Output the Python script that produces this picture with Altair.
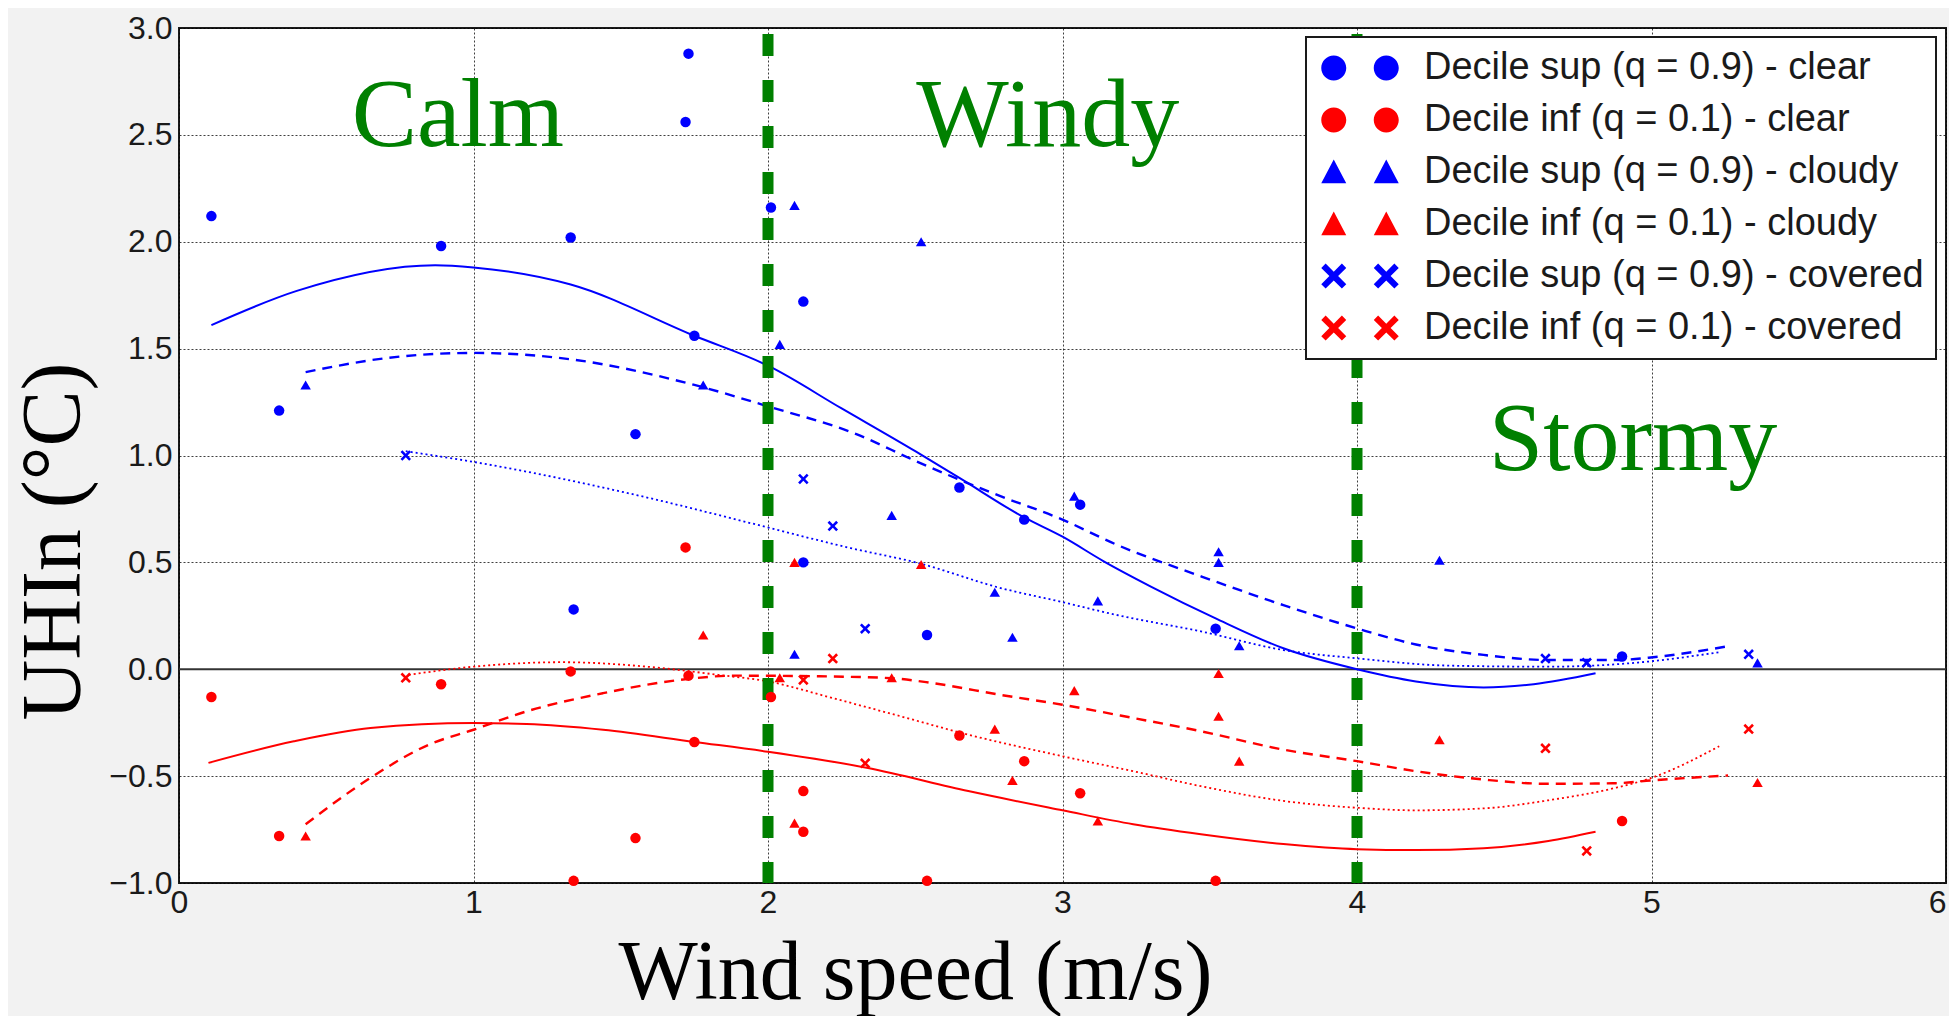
import altair as alt
import pandas as pd

# ------------------------------------------------------------------ data
series_names = [
    "Decile sup (q = 0.9) - clear",
    "Decile inf (q = 0.1) - clear",
    "Decile sup (q = 0.9) - cloudy",
    "Decile inf (q = 0.1) - cloudy",
    "Decile sup (q = 0.9) - covered",
    "Decile inf (q = 0.1) - covered",
]
series_colors = ["#0000ff", "#ff0000", "#0000ff", "#ff0000", "#0000ff", "#ff0000"]

clear_x = [0.11, 0.34, 0.89, 1.33, 1.34, 1.55, 1.72, 1.73, 1.75, 2.01, 2.12, 2.12,
           2.54, 2.65, 2.87, 3.06, 3.52, 4.90]
clear_sup = [2.12, 1.21, 1.98, 2.02, 0.28, 1.10, 2.56, 2.88, 1.56, 2.16, 1.72, 0.50,
             0.16, 0.85, 0.70, 0.77, 0.19, 0.06]
clear_inf = [-0.13, -0.78, -0.07, -0.01, -0.99, -0.79, 0.57, -0.03, -0.34, -0.13, -0.57, -0.76,
             -0.99, -0.31, -0.43, -0.58, -0.99, -0.71]

cloudy_x = [0.43, 1.78, 2.04, 2.09, 2.09, 2.42, 2.52, 2.77, 2.83, 3.04, 3.12, 3.53, 3.53,
            3.60, 4.28, 5.36]
cloudy_sup = [1.33, 1.33, 1.52, 2.17, 0.07, 0.72, 2.00, 0.36, 0.15, 0.81, 0.32, 0.55, 0.50,
              0.11, 0.51, 0.03]
cloudy_inf = [-0.78, 0.16, -0.04, 0.50, -0.72, -0.04, 0.49, -0.28, -0.52, -0.10, -0.71, -0.02,
              -0.22, -0.43, -0.33, -0.53]

covered_x = [0.77, 2.12, 2.22, 2.33, 4.64, 4.78, 5.33]
covered_sup = [1.00, 0.89, 0.67, 0.19, 0.05, 0.03, 0.07]
covered_inf = [-0.04, -0.05, 0.05, -0.44, -0.37, -0.85, -0.28]

# fitted quantile curves
fit_clear_sup_x = [0.11, 0.40, 0.87, 1.00, 1.33, 1.75, 2.00, 2.25, 2.50, 2.65, 2.87, 3.00,
                   3.14, 3.30, 3.52, 3.75, 4.00, 4.20, 4.43, 4.60, 4.81]
fit_clear_sup_y = [1.61, 1.77, 1.89, 1.88, 1.80, 1.56, 1.42, 1.22, 1.02, 0.895, 0.71, 0.62,
                   0.505, 0.387, 0.238, 0.098, 0.0, -0.057, -0.085, -0.07, -0.019]

fit_cloudy_sup_x = [0.43, 0.70, 1.00, 1.33, 1.75, 2.00, 2.30, 2.50, 2.77, 3.00, 3.18, 3.47,
                    3.75, 4.00, 4.20, 4.43, 4.65, 4.88, 4.99, 5.27]
fit_cloudy_sup_y = [1.39, 1.455, 1.48, 1.45, 1.33, 1.23, 1.10, 0.975, 0.82, 0.70, 0.585, 0.435,
                    0.30, 0.191, 0.116, 0.067, 0.043, 0.043, 0.054, 0.11]

fit_covered_sup_x = [0.77, 1.00, 1.60, 1.94, 2.28, 2.51, 2.79, 3.00, 3.18, 3.47, 3.75, 4.00,
                     4.31, 4.65, 4.99, 5.23]
fit_covered_sup_y = [1.02, 0.97, 0.80, 0.684, 0.567, 0.497, 0.38, 0.314, 0.255, 0.177, 0.09, 0.051,
                     0.017, 0.012, 0.036, 0.08]

fit_clear_inf_x = [0.10, 0.39, 0.65, 1.00, 1.18, 1.44, 1.75, 2.00, 2.335, 2.68, 3.00, 3.24,
                   3.47, 3.75, 4.00, 4.20, 4.43, 4.65, 4.81]
fit_clear_inf_y = [-0.438, -0.337, -0.275, -0.252, -0.256, -0.283, -0.34, -0.386, -0.461, -0.57,
                   -0.66, -0.725, -0.772, -0.818, -0.842, -0.846, -0.837, -0.803, -0.76]

fit_cloudy_inf_x = [0.43, 0.65, 0.85, 1.00, 1.18, 1.44, 1.70, 1.89, 2.22, 2.42, 2.56, 2.79,
                    3.00, 3.24, 3.47, 3.75, 4.00, 4.20, 4.43, 4.65, 4.88, 5.00, 5.26]
fit_cloudy_inf_y = [-0.725, -0.508, -0.352, -0.283, -0.197, -0.112, -0.05, -0.03, -0.034, -0.042,
                    -0.065, -0.12, -0.166, -0.228, -0.29, -0.376, -0.43, -0.477, -0.516, -0.536,
                    -0.533, -0.52, -0.497]

fit_covered_inf_x = [0.78, 1.00, 1.30, 1.62, 1.83, 2.00, 2.22, 2.45, 2.68, 3.00, 3.24, 3.47,
                     3.75, 4.00, 4.20, 4.43, 4.65, 4.88, 5.00, 5.23]
fit_covered_inf_y = [-0.026, 0.012, 0.033, 0.008, -0.026, -0.057, -0.135, -0.22, -0.306, -0.407,
                     -0.477, -0.547, -0.616, -0.648, -0.66, -0.651, -0.613, -0.554, -0.508, -0.36]

region_names = ["Calm", "Windy", "Stormy"]
region_x = [0.947, 2.95, 4.937]
region_y = [2.446, 2.446, 0.93]

regime_bounds = [2.0, 4.0]
zero_level = [0.0]

x_ticks = [0, 1, 2, 3, 4, 5, 6]
y_ticks = [-1.0, -0.5, 0.0, 0.5, 1.0, 1.5, 2.0, 2.5, 3.0]

# ------------------------------------------------------------------ styling helpers
def x_path(cx=0.0, a=0.35):
    pts = [(-1, -1 + a), (-1 + a, -1), (0, -a), (1 - a, -1), (1, -1 + a), (a, 0),
           (1, 1 - a), (1 - a, 1), (0, a), (-1 + a, 1), (-1, 1 - a), (-a, 0)]
    return "M" + "L".join(f"{px + cx:.3f},{py:.3f}" for px, py in pts) + "Z"


def circle_path(cx):
    return f"M{cx - 1:.2f},0A1,1,0,1,0,{cx + 1:.2f},0A1,1,0,1,0,{cx - 1:.2f},0Z"


def tri_path(cx):
    return f"M{cx - 1:.2f},0.9L{cx:.2f},-1L{cx + 1:.2f},0.9Z"


D = 2.1
X_SINGLE = x_path()
point_shapes = ["circle", "circle", "triangle-up", "triangle-up", X_SINGLE, X_SINGLE]
point_sizes = [110, 110, 115, 115, 150, 150]
pair_circle = circle_path(-D) + circle_path(D)
pair_tri = tri_path(-D) + tri_path(D)
pair_x = x_path(-D) + x_path(D)
legend_shapes = [pair_circle, pair_circle, pair_tri, pair_tri, pair_x, pair_x]

# ------------------------------------------------------------------ tables
point_sets = [
    (series_names[0], clear_x, clear_sup),
    (series_names[1], clear_x, clear_inf),
    (series_names[2], cloudy_x, cloudy_sup),
    (series_names[3], cloudy_x, cloudy_inf),
    (series_names[4], covered_x, covered_sup),
    (series_names[5], covered_x, covered_inf),
]
rows = []
for name, xs, ys in point_sets:
    for a, b in zip(xs, ys):
        rows.append({"x": a, "y": b, "series": name})
points_df = pd.DataFrame(rows)
legend_df = points_df.drop_duplicates("series").reset_index(drop=True)

TICK_FONT = "Liberation Sans"
SERIF = "Liberation Serif"

x_axis = alt.Axis(
    values=x_ticks, format="d", title="Wind speed (m/s)",
    titleFont=SERIF, titleFontSize=84, titleFontWeight="normal", titleColor="black",
    titleX=736, titleY=115, titleBaseline="alphabetic", titleAlign="center",
    labelFlush=False, labelOverlap=False, labelPadding=4,
    labelAlign={"condition": {"test": "datum.value == 6", "value": "right"}, "value": "center"},
)
y_axis = alt.Axis(
    values=y_ticks, format=".1f", title="UHIn (°C)",
    titleFont=SERIF, titleFontSize=84, titleFontWeight="normal", titleColor="black",
    titleAngle=270, titleX=-100, titleY=513, titleBaseline="alphabetic", titleAlign="center",
    labelFlush=False, labelOverlap=False, labelPadding=7,
)
x_enc = alt.X("x:Q", scale=alt.Scale(domain=[0, 6], nice=False, zero=False), axis=x_axis)
y_enc = alt.Y("y:Q", scale=alt.Scale(domain=[-1, 3], nice=False, zero=False), axis=y_axis)

layers = []

# zero line
layers.append(
    alt.Chart(pd.DataFrame({"y": zero_level}))
    .mark_rule(color="#333333", strokeWidth=2)
    .encode(y=y_enc)
)

# fitted curves
curve_specs = [
    (fit_clear_sup_x, fit_clear_sup_y, "#0000ff", None, 2.0),
    (fit_cloudy_sup_x, fit_cloudy_sup_y, "#0000ff", [10, 7], 2.4),
    (fit_covered_sup_x, fit_covered_sup_y, "#0000ff", [2, 3], 1.8),
    (fit_clear_inf_x, fit_clear_inf_y, "#ff0000", None, 2.0),
    (fit_cloudy_inf_x, fit_cloudy_inf_y, "#ff0000", [10, 7], 2.4),
    (fit_covered_inf_x, fit_covered_inf_y, "#ff0000", [2, 3], 1.8),
]
for xs, ys, col, dash, w in curve_specs:
    kw = dict(color=col, strokeWidth=w, interpolate="monotone")
    if dash:
        kw["strokeDash"] = dash
    layers.append(
        alt.Chart(pd.DataFrame({"x": xs, "y": ys})).mark_line(**kw).encode(x=x_enc, y=y_enc)
    )

# regime boundaries
layers.append(
    alt.Chart(pd.DataFrame({"x": regime_bounds}))
    .mark_rule(color="#008000", strokeWidth=11, strokeDash=[22, 24], strokeDashOffset=40)
    .encode(x=x_enc)
)

# scatter points
layers.append(
    alt.Chart(points_df)
    .mark_point(filled=True, opacity=1, strokeWidth=0)
    .encode(
        x=x_enc, y=y_enc,
        color=alt.Color("series:N", scale=alt.Scale(domain=series_names, range=series_colors), legend=None),
        shape=alt.Shape("series:N", scale=alt.Scale(domain=series_names, range=point_shapes), legend=None),
        size=alt.Size("series:N", scale=alt.Scale(domain=series_names, range=point_sizes), legend=None),
    )
)

# region labels
layers.append(
    alt.Chart(pd.DataFrame({"x": region_x, "y": region_y, "label": region_names}))
    .mark_text(font=SERIF, fontSize=98, color="#008000", align="center", baseline="alphabetic")
    .encode(x=x_enc, y=y_enc, text="label:N")
)

# legend carrier (invisible marks, visible legend)
leg = alt.Legend(
    title=None, orient="none", legendX=1127, legendY=9,
    symbolSize=625, symbolStrokeWidth=0, symbolOffset=23, symbolOpacity=1,
    labelOffset=45, labelFont=TICK_FONT, labelFontSize=38, labelColor="#1a1a1a",
    labelLimit=900, padding=12, rowPadding=14,
    fillColor="white", strokeColor="#1a1a1a",
)
layers.append(
    alt.Chart(legend_df)
    .mark_point(filled=True, opacity=0)
    .encode(
        x=x_enc, y=y_enc,
        color=alt.Color("series:N", scale=alt.Scale(domain=series_names, range=series_colors), legend=leg),
        shape=alt.Shape("series:N", scale=alt.Scale(domain=series_names, range=legend_shapes), legend=leg),
    )
)

chart = (
    alt.layer(*layers)
    .resolve_scale(color="independent", shape="independent", size="independent")
    .properties(
        width=1767, height=855,
        autosize=alt.AutoSizeParams(type="none"),
        padding={"left": 171, "top": 20, "right": 3, "bottom": 133},
        background="#f2f2f2",
    )
    .configure_view(stroke="#1a1a1a", strokeWidth=2, fill="white")
    .configure_axis(
        grid=True, gridColor="black", gridDash=[2, 2], gridWidth=1, gridOpacity=0.75,
        domain=False, ticks=False,
        labelFont=TICK_FONT, labelFontSize=32, labelColor="#1a1a1a",
    )
    .configure_legend(strokeWidth=2)
)

chart.save("out.html", embed_options={"renderer": "svg", "actions": False})
